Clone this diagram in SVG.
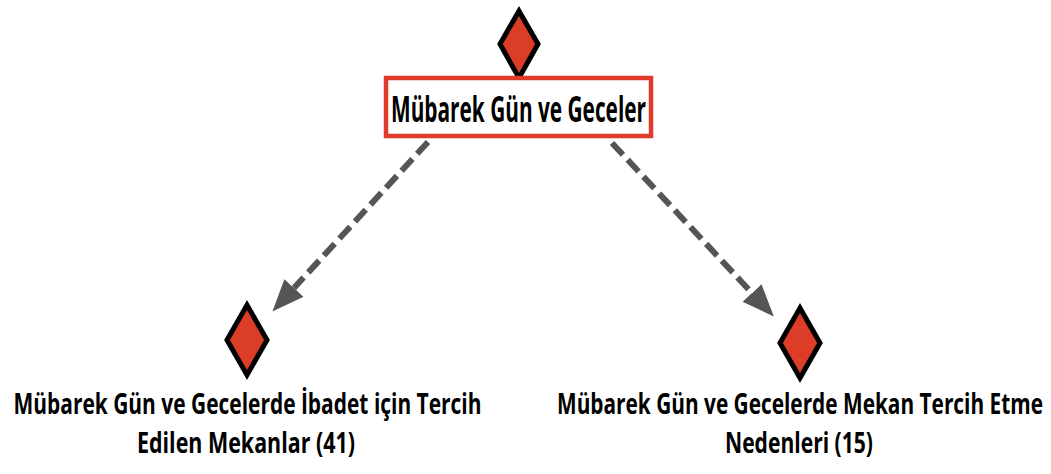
<svg xmlns="http://www.w3.org/2000/svg" width="1051" height="474" viewBox="0 0 1051 474">
<style>
.dia{fill:#dc3d27;stroke:#000;stroke-width:5;stroke-linejoin:miter}
.lbl{font-family:"Open Sans","Liberation Sans",sans-serif;font-weight:bold;fill:#000;text-anchor:middle;font-size:21px}
.edge{stroke:#555;stroke-width:6;fill:none;stroke-dasharray:16 7}
</style>
<defs>
<marker id="ah" markerUnits="userSpaceOnUse" markerWidth="32" markerHeight="28" refX="0" refY="13" orient="auto" viewBox="0 0 32 26">
<path d="M0,0 L32,13 L0,26 z" fill="#555"/>
</marker>
</defs>
<rect width="1051" height="474" fill="#fff"/>
<g id="connectors">
<line class="edge" x1="428" y1="142" x2="294" y2="288" marker-end="url(#ah)"/>
<line class="edge" x1="612" y1="143" x2="752" y2="293" marker-end="url(#ah)"/>
</g>
<g id="node-root">
<polygon class="dia" points="519,11 538,44 519,78 500,44"/>
<rect x="386" y="78" width="265" height="58" fill="#fff" stroke="#e03a2a" stroke-width="4.5"/>
<text class="lbl" transform="translate(518.5,122) scale(1,1.667)" x="0" y="0" textLength="255" lengthAdjust="spacingAndGlyphs">Mübarek Gün ve Geceler</text>
</g>
<g id="node-left">
<polygon class="dia" points="247,305 267,340 247,375 227,340"/>
<text class="lbl" transform="translate(247.5,414) scale(1,1.333)" x="0" y="0" textLength="468" lengthAdjust="spacingAndGlyphs">Mübarek Gün ve Gecelerde İbadet için Tercih</text>
<text class="lbl" transform="translate(246,453) scale(1,1.333)" x="0" y="0" textLength="218" lengthAdjust="spacingAndGlyphs">Edilen Mekanlar (41)</text>
</g>
<g id="node-right">
<polygon class="dia" points="800,308 820,343 800,378 780,343"/>
<text class="lbl" transform="translate(800,414) scale(1,1.333)" x="0" y="0" textLength="486" lengthAdjust="spacingAndGlyphs">Mübarek Gün ve Gecelerde Mekan Tercih Etme</text>
<text class="lbl" transform="translate(799,453) scale(1,1.333)" x="0" y="0" textLength="148" lengthAdjust="spacingAndGlyphs">Nedenleri (15)</text>
</g>
</svg>
